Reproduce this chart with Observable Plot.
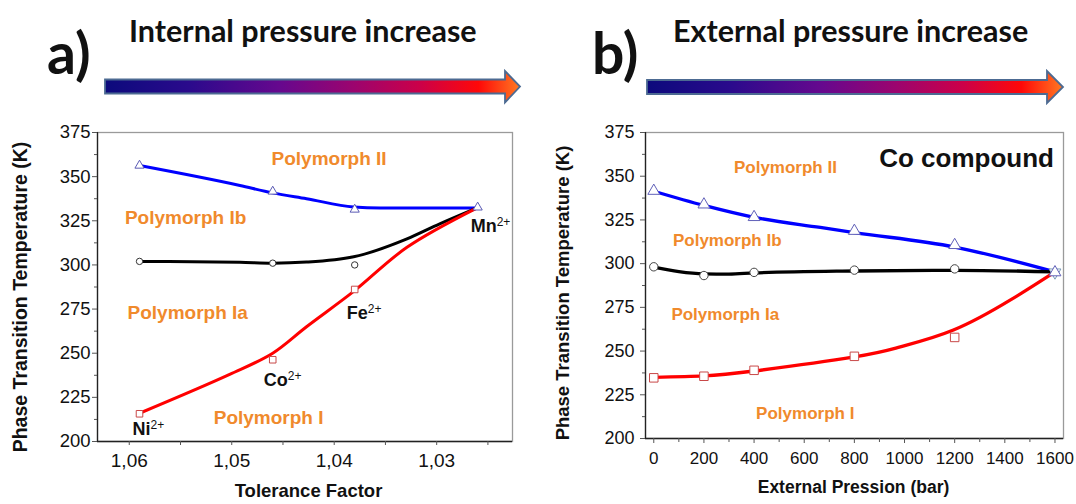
<!DOCTYPE html>
<html><head><meta charset="utf-8">
<script src="https://cdn.jsdelivr.net/npm/d3@7"></script>
<script src="https://cdn.jsdelivr.net/npm/@observablehq/plot@0.6"></script>
<style>
html,body{margin:0;padding:0;background:#fff;}
#wrap{position:relative;width:1076px;height:504px;overflow:hidden;background:#fff;}
#wrap > svg{position:absolute;top:0;}
</style></head><body><div id="wrap"></div>
<script>
// ---------- Headers ----------
const panelLetters = ["a)", "b)"];
const panelTitles = ["Internal pressure increase", "External pressure increase"];

// ---------- Panel a data ----------
const ionsA = ["Ni", "Co", "Fe", "Mn"];
const tolFactor = [1.059, 1.046, 1.038, 1.026];
const tA_II = [356.3, 341.6, 331.4, 332.6];       // triangles
const tA_Ib = [302.0, 301.0, 300.0, null];        // circles
const tA_I  = [215.7, 246.3, 286.1, null];        // squares
const ionAnchorT = [215.7, 246.3, 286.1, 332.6];  // temperature each ion label is attached to
// fitted curves
const curveA_II_x = [1.059, 1.0492, 1.046, 1.0427, 1.0381, 1.0355, 1.0261];
const curveA_II_y = [356.3, 345.0, 340.8, 337.5, 332.8, 332.2, 332.2];
const curveA_Ib_x = [1.059, 1.0492, 1.046, 1.0427, 1.0381, 1.0329, 1.0297, 1.0261];
const curveA_Ib_y = [302.0, 301.5, 301.0, 301.6, 304.6, 314.8, 323.3, 332.2];
const curveA_I_x  = [1.059, 1.0502, 1.046, 1.0427, 1.0381, 1.0329, 1.0261];
const curveA_I_y  = [216.0, 238.0, 250.0, 265.0, 285.0, 310.0, 332.2];
const xTicksA = [1.06, 1.05, 1.04, 1.03];
const xMinorA = [1.055, 1.045, 1.035, 1.025];
const phaseLabelsA = ["Polymorph II", "Polymorph Ib", "Polymorph Ia", "Polymorph I"];
const phaseXA = [1.0405, 1.0545, 1.0543, 1.0464];
const phaseYA = [360.3, 326.9, 273.0, 213.6];

// ---------- Panel b data ----------
const pressure = [0, 200, 400, 800, 1200, 1600];
const tB_II = [341.6, 333.8, 326.6, 318.7, 310.6, 295.0];
const tB_Ib = [298.2, 293.2, 295.0, 296.3, 297.0, null];
const tB_I  = [234.7, 235.6, 239.0, 247.0, 257.8, null];
const curveB_II_x = [0, 200, 400, 664, 800, 1200, 1600];
const curveB_II_y = [341.4, 333.3, 326.5, 320.7, 317.8, 309.5, 295.3];
const curveB_Ib_x = [0, 100, 200, 300, 400, 800, 1200, 1600];
const curveB_Ib_y = [298.0, 295.5, 294.2, 294.0, 294.7, 295.8, 296.2, 295.3];
const curveB_I_x  = [0, 200, 400, 800, 983, 1195, 1421, 1600];
const curveB_I_y  = [235.0, 235.8, 238.6, 246.7, 252.4, 262.0, 279.1, 295.3];
const xTicksB = [0, 200, 400, 600, 800, 1000, 1200, 1400, 1600];
const xMinorB = [100, 300, 500, 700, 900, 1100, 1300, 1500];
const phaseLabelsB = ["Polymorph II", "Polymorph Ib", "Polymorph Ia", "Polymorph I"];
const phaseXB = [525, 293, 285, 604];
const phaseYB = [355.2, 313.4, 271.1, 214.5];
const compoundLabel = "Co compound";

const yTicks = [200, 225, 250, 275, 300, 325, 350, 375];
const yMinor = [212.5, 237.5, 262.5, 287.5, 312.5, 337.5, 362.5];
const yTitle = "Phase Transition Temperature (K)";
const xTitleA = "Tolerance Factor";
const xTitleB = "External Pression (bar)";

const ORANGE = "#f08a2c";
const FONT = "'Liberation Sans', Arial, sans-serif";

const zip = (xs, ys) => xs.map((x, i) => ({x, y: ys[i]}));
const pts = (xs, ys) => xs.map((x, i) => ({x, y: ys[i]})).filter(d => d.y != null);

// ---------- Panel a ----------
const xDomA = [1.0631, 1.0226];
const plotA = Plot.plot({
  width: 540, height: 504,
  marginLeft: 97, marginRight: 28, marginTop: 132, marginBottom: 63,
  style: {fontFamily: FONT, background: "transparent", color: "#111"},
  x: {domain: xDomA, label: null},
  y: {domain: [200, 375], label: null},
  marks: [
    Plot.frame({stroke: "#9a9a9a", strokeWidth: 1.3}),
    Plot.ruleX([xDomA[0]], {stroke: "#222", strokeWidth: 1.3}),
    Plot.ruleY([200], {stroke: "#222", strokeWidth: 1.3}),
    Plot.axisX({ticks: xTicksA, tickFormat: d => d.toFixed(2).replace(".", ","), tickSize: 4, tickPadding: 8, fontSize: 19, stroke: "#555"}),
    Plot.axisX({ticks: xMinorA, tickFormat: () => "", tickSize: 4, stroke: "#555"}),
    Plot.axisY({ticks: yTicks, tickSize: 5, tickPadding: 2, fontSize: 18.5, stroke: "#555"}),
    Plot.axisY({ticks: yMinor, tickFormat: () => "", tickSize: 3, stroke: "#555"}),
    Plot.line(zip(curveA_II_x, curveA_II_y), {x: "x", y: "y", stroke: "#0000ff", strokeWidth: 3, curve: "monotone-x"}),
    Plot.line(zip(curveA_Ib_x, curveA_Ib_y), {x: "x", y: "y", stroke: "#000", strokeWidth: 3, curve: "monotone-x"}),
    Plot.line(zip(curveA_I_x, curveA_I_y), {x: "x", y: "y", stroke: "#ff0000", strokeWidth: 3, curve: "catmull-rom"}),
    Plot.dot(pts(tolFactor, tA_Ib), {x: "x", y: "y", symbol: "circle", r: 3.2, fill: "#fff", stroke: "#333", strokeWidth: 1}),
    Plot.dot(pts(tolFactor, tA_I), {x: "x", y: "y", symbol: "square", r: 3.7, fill: "#fff", stroke: "#c84848", strokeWidth: 1}),
    Plot.dot(pts(tolFactor, tA_II), {x: "x", y: "y", symbol: "triangle", r: 3.4, fill: "#fff", stroke: "#5a5ab4", strokeWidth: 1}),
    Plot.text(phaseLabelsA, {x: (d, i) => phaseXA[i], y: (d, i) => phaseYA[i], text: d => d, fill: ORANGE, fontWeight: "bold", fontSize: 19}),
    Plot.text(ionsA, {x: (d, i) => tolFactor[i], y: (d, i) => ionAnchorT[i], text: d => d, textAnchor: "start",
      fontWeight: "bold", fontSize: 18, fill: "#111"}),
    Plot.text([yTitle], {frameAnchor: "left", textAnchor: "middle", dx: -77, dy: 10, rotate: -90, fontWeight: "bold", fontSize: 19.5, fill: "#111"}),
    Plot.text([xTitleA], {frameAnchor: "bottom", dx: 3.5, dy: 55, fontWeight: "bold", fontSize: 18.5, fill: "#111"})
  ]
});
plotA.style.left = "0px";
document.getElementById("wrap").appendChild(plotA);

// ion label offsets (screen px) relative to each ion's data point, plus "2+" superscripts
const ionOffsets = {Ni: [-7, 15], Co: [-9, 20], Fe: [-8, 24], Mn: [-7, 18.5]};
d3.select(plotA).selectAll("text").filter(function() { return ionsA.includes(this.textContent); }).each(function() {
  const t = d3.select(this);
  const [ox, oy] = ionOffsets[this.textContent];
  const tr = t.attr("transform") || "";
  t.attr("transform", `translate(${ox},${oy}) ` + tr);
  t.append("tspan").attr("dy", "-0.5em").attr("font-size", "12px").attr("font-weight", "normal").text("2+");
});

// ---------- Panel b ----------
const xDomB = [-33, 1634];
const plotB = Plot.plot({
  width: 536, height: 504,
  marginLeft: 105, marginRight: 13, marginTop: 132, marginBottom: 66,
  style: {fontFamily: FONT, background: "transparent", color: "#111"},
  x: {domain: xDomB, label: null},
  y: {domain: [200, 375], label: null},
  marks: [
    Plot.frame({stroke: "#9a9a9a", strokeWidth: 1.3}),
    Plot.ruleX([xDomB[0]], {stroke: "#222", strokeWidth: 1.3}),
    Plot.ruleY([200], {stroke: "#222", strokeWidth: 1.3}),
    Plot.axisX({ticks: xTicksB, tickFormat: d => String(d), tickSize: 5, tickPadding: 8, fontSize: 17, stroke: "#555"}),
    Plot.axisX({ticks: xMinorB, tickFormat: () => "", tickSize: 4, stroke: "#555"}),
    Plot.axisY({ticks: yTicks, tickSize: 5, tickPadding: 6, fontSize: 18, stroke: "#555"}),
    Plot.axisY({ticks: yMinor, tickFormat: () => "", tickSize: 3, stroke: "#555"}),
    Plot.line(zip(curveB_II_x, curveB_II_y), {x: "x", y: "y", stroke: "#0000ff", strokeWidth: 3.3, curve: "monotone-x"}),
    Plot.line(zip(curveB_Ib_x, curveB_Ib_y), {x: "x", y: "y", stroke: "#000", strokeWidth: 3.3, curve: "monotone-x"}),
    Plot.line(zip(curveB_I_x, curveB_I_y), {x: "x", y: "y", stroke: "#ff0000", strokeWidth: 3.3, curve: "natural"}),
    Plot.dot(pts(pressure, tB_Ib), {x: "x", y: "y", symbol: "circle", r: 4.2, fill: "#fff", stroke: "#444", strokeWidth: 1}),
    Plot.dot(pts(pressure, tB_I), {x: "x", y: "y", symbol: "square", r: 4.8, fill: "#fff", stroke: "#c84848", strokeWidth: 1}),
    Plot.dot(pts(pressure, tB_II).slice(-1), {x: "x", y: "y", symbol: "triangle", r: 4.4, fill: "#fff", stroke: "#7c9cb8", strokeWidth: 1, rotate: 180}),
    Plot.dot(pts(pressure, tB_II), {x: "x", y: "y", symbol: "triangle", r: 4.4, fill: "#fff", stroke: "#6060b8", strokeWidth: 1}),
    Plot.text(phaseLabelsB, {x: (d, i) => phaseXB[i], y: (d, i) => phaseYB[i], text: d => d, fill: ORANGE, fontWeight: "bold", fontSize: 17}),
    Plot.text([compoundLabel], {x: 1596, y: 360.3, textAnchor: "end", fontWeight: "bold", fontSize: 26, fill: "#111"}),
    Plot.text([yTitle], {frameAnchor: "left", textAnchor: "middle", dx: -82, dy: 7.5, rotate: -90, fontWeight: "bold", fontSize: 18.5, fill: "#111"}),
    Plot.text([xTitleB], {frameAnchor: "bottom", dx: -1, dy: 54, fontWeight: "bold", fontSize: 17.5, fill: "#111"})
  ]
});
plotB.style.left = "540px";
document.getElementById("wrap").appendChild(plotB);

// ---------- Header overlay: panel letters, titles, gradient arrows ----------
const hdr = d3.select("#wrap").append("svg")
  .attr("width", 1076).attr("height", 110)
  .style("left", "0px").style("top", "0px").style("position", "absolute");
const defs = hdr.append("defs");
const grad = defs.append("linearGradient").attr("id", "pg").attr("x1", "0%").attr("x2", "100%");
[["0%", "#0c0a7c"], ["20%", "#2a0a8c"], ["42%", "#66088e"], ["60%", "#9c046e"], ["76%", "#cc0048"], ["90%", "#ff0808"], ["100%", "#ff7a22"]]
  .forEach(([o, c]) => grad.append("stop").attr("offset", o).attr("stop-color", c));

function arrow(x0, xh, tip, yb1, yb2, yh1, yh2) {
  const ym = (yb1 + yb2) / 2;
  hdr.append("path")
    .attr("d", `M${x0},${yb1}L${xh},${yb1}L${xh},${yh1}L${tip},${ym}L${xh},${yh2}L${xh},${yb2}L${x0},${yb2}Z`)
    .attr("fill", "url(#pg)").attr("stroke", "#4c6a92").attr("stroke-width", 1.8).attr("stroke-linejoin", "miter");
}
arrow(105, 505, 520, 79.5, 93.5, 71, 102.5);
arrow(647, 1047, 1063, 80, 94, 71, 103);

const letterX = [47, 592];
const titleX = [129, 673];
panelLetters.forEach((t, i) => {
  hdr.append("text").attr("x", letterX[i]).attr("y", 74).text(t)
    .attr("font-family", "Lato, 'Open Sans', sans-serif").attr("font-weight", "bold").attr("font-size", 57).attr("fill", "#111");
  hdr.append("text").attr("x", titleX[i]).attr("y", 42).text(panelTitles[i])
    .attr("font-family", "Lato, 'Open Sans', sans-serif").attr("font-weight", "bold").attr("font-size", 30.5).attr("fill", "#111");
});
</script></body></html>
